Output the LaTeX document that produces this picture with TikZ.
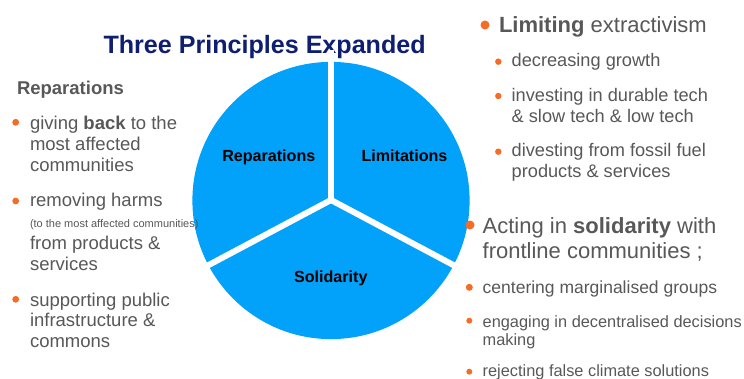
\documentclass[tikz,border=0pt]{standalone}
\usepackage{fontspec}
\setmainfont{Liberation Sans}
\definecolor{pieblue}{RGB}{2,161,250}
\definecolor{navy}{RGB}{14,30,112}
\definecolor{textgray}{RGB}{88,88,88}
\definecolor{bulletorange}{RGB}{246,108,38}
\begin{document}
\begin{tikzpicture}[x=1pt,y=-1pt,
  txt/.style={anchor=base west, inner sep=0pt, outer sep=0pt, text=textgray},
  fl/.style={txt, font=\fontsize{18.5}{21}\selectfont},
  fs/.style={txt, font=\fontsize{11}{13}\selectfont},
  fr/.style={txt, font=\fontsize{18.2}{21}\selectfont},
  fb/.style={txt, font=\fontsize{22}{25}\selectfont},
  fm/.style={txt, font=\fontsize{17.5}{20}\selectfont},
  fn/.style={txt, font=\fontsize{16.35}{19}\selectfont},
  pielabel/.style={anchor=base, inner sep=0pt, text=black, font=\fontsize{16.1}{18}\selectfont\bfseries},
  gap/.style={white, line width=6pt, line cap=butt},
]
\useasboundingbox (0,0) rectangle (744,379);
\fill[white] (0,0) rectangle (744,379);

% title
\node[anchor=base west, inner sep=0pt, text=navy, font=\fontsize{25.1}{28}\selectfont\bfseries] (title) at (103.3,53.3) {Three Principles Expanded};

% pie
\coordinate (c) at (331,200);
\coordinate (gtop) at (331,50);
\coordinate (gleft) at (189.7,275.1);
\coordinate (gright) at (472.3,275.1);
\fill[pieblue] (331,200.5) circle[radius=138.6pt];
\draw[gap] (c) -- (gtop);
\draw[gap] (c) -- (gleft);
\draw[gap] (c) -- (gright);
\node[pielabel] (lrep) at (268.8,161.7) {Reparations};
\node[pielabel] (llim) at (404.5,161.7) {Limitations};
\node[pielabel] (lsol) at (330.8,282.3) {Solidarity};

% left column
\node[txt, font=\fontsize{18.5}{21}\selectfont\bfseries] (hrep) at (17,95) {Reparations};
\fill[bulletorange] (15.7,122.3) circle[radius=3.4pt];
\node[fl] (a1) at (30,129.5) {giving \textbf{back} to the};
\node[fl] (a2) at (30,150.7) {most affected};
\node[fl] (a3) at (30,171.7) {communities};
\fill[bulletorange] (15.7,201) circle[radius=3.4pt];
\node[fl] (b1) at (30,206.7) {removing harms};
\node[fs] (b2) at (30,228) {(to the most affected communities)};
\node[fl] (b3) at (30,250) {from products \&};
\node[fl] (b4) at (30,270.7) {services};
\fill[bulletorange] (15.7,299.3) circle[radius=3.4pt];
\node[fl] (c1) at (30,306) {supporting public};
\node[fl] (c2) at (30,326.7) {infrastructure \&};
\node[fl] (c3) at (30,347.7) {commons};

% right top
\fill[bulletorange] (485,25) circle[radius=4.5pt];
\node[fb] (lim) at (499,32.3) {\textbf{Limiting} extractivism};
\fill[bulletorange] (498.3,61.7) circle[radius=3.2pt];
\node[fr] (d1) at (511.7,66.7) {decreasing growth};
\fill[bulletorange] (498.3,96) circle[radius=3.2pt];
\node[fr] (e1) at (511.7,101.7) {investing in durable tech};
\node[fr] (e2) at (511.7,122.7) {\& slow tech \& low tech};
\fill[bulletorange] (498.3,151.7) circle[radius=3.2pt];
\node[fr] (f1) at (511.7,156.7) {divesting from fossil fuel};
\node[fr] (f2) at (511.7,177.3) {products \& services};

% right bottom
\fill[bulletorange] (470,225) circle[radius=4.5pt];
\node[fb] (sol1) at (482.7,233.3) {Acting in \textbf{solidarity} with};
\node[fb] (sol2) at (482.7,258.3) {frontline communities ;};
\fill[bulletorange] (469.3,287.3) circle[radius=3.5pt];
\node[fm] (g1) at (482.7,293.3) {centering marginalised groups};
\fill[bulletorange] (469.3,320.7) circle[radius=3pt];
\node[fn] (h1) at (482.7,327.3) {engaging in decentralised decisions};
\node[fn] (h2) at (482.7,345.7) {making};
\fill[bulletorange] (469.3,371.7) circle[radius=3pt];
\node[fn] (i1) at (482.7,376.7) {rejecting false climate solutions};
\end{tikzpicture}
\end{document}
